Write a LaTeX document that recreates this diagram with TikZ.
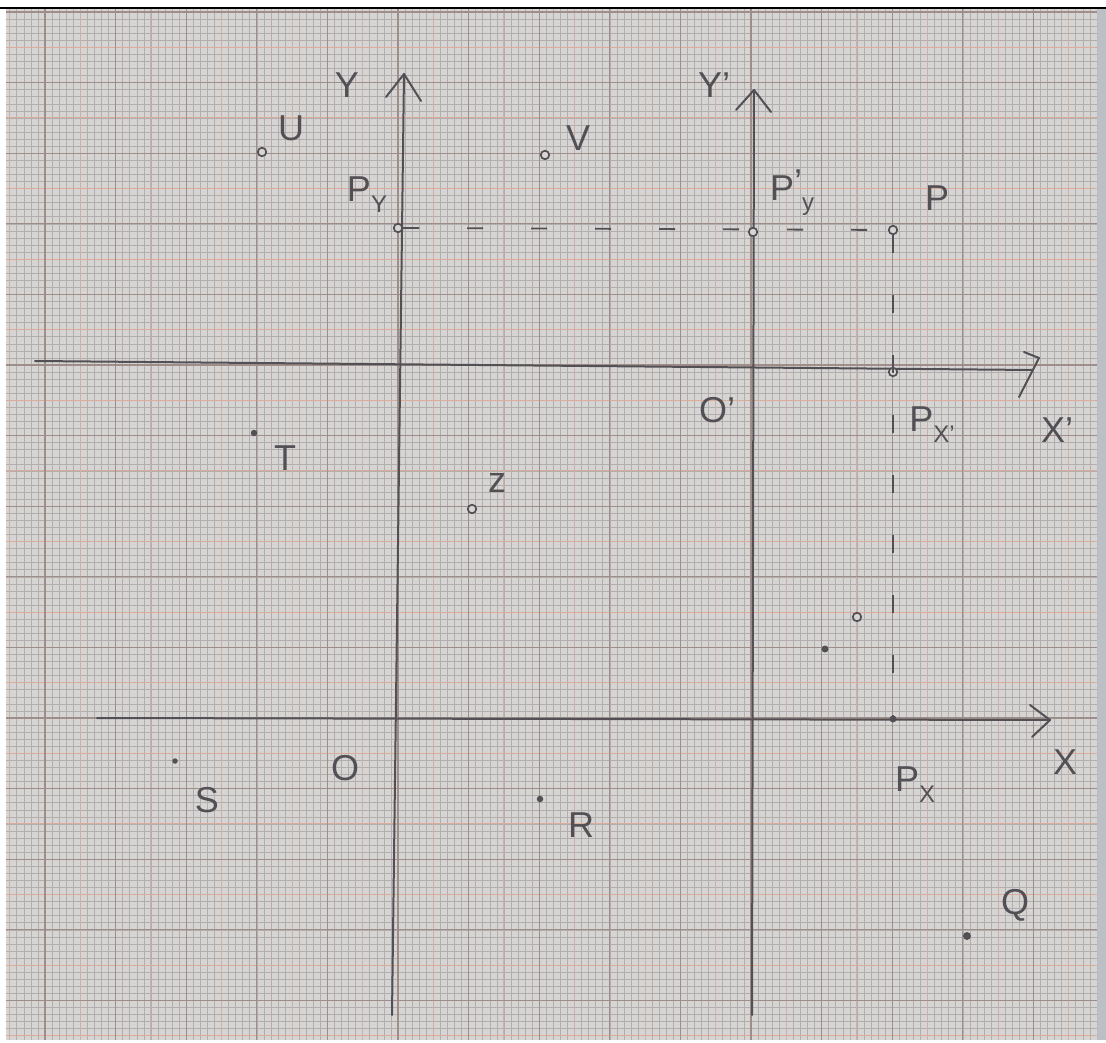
\documentclass[tikz,border=0pt]{standalone}
\usepackage{fontspec}
\setmainfont{Liberation Sans}
\definecolor{paper}{RGB}{215,213,212}
\definecolor{gfine}{RGB}{178,174,174}
\definecolor{ghalf}{RGB}{220,172,155}
\definecolor{ghalfv}{RGB}{200,178,170}
\definecolor{gcm}{RGB}{158,142,138}
\definecolor{pencil}{RGB}{82,80,84}
\definecolor{edgegray}{RGB}{188,192,198}
\newcommand\lsub[1]{\raisebox{-0.3em}{\fontsize{24}{26}\selectfont #1}}
\tikzset{
  fineline/.style={draw=gfine, line width=0.55pt},
  halfline/.style={draw=ghalf, line width=1pt},
  halfvline/.style={draw=ghalfv, line width=0.9pt},
  cmline/.style={draw=gcm, line width=1.1pt},
  axisline/.style={draw=pencil, line width=2pt, line cap=round, line join=round},
  dashline/.style={draw=pencil, line width=1.8pt, dash pattern=on 16pt off 48pt},
  vdashline/.style={draw=pencil, line width=1.8pt, dash pattern=on 18pt off 42pt},
  opendot/.style={circle, draw=pencil, line width=1.7pt, fill=paper, inner sep=0pt, minimum size=8.5pt},
  filldot/.style={circle, fill=pencil, inner sep=0pt, minimum size=6.5pt},
  lbl/.style={text=pencil, font=\fontsize{36}{40}\selectfont, inner sep=0pt},
}
\begin{document}
\begin{tikzpicture}[x=1pt,y=-1pt]
\useasboundingbox (0,0) rectangle (1106,1043);
\fill[white] (0,0) rectangle (1106,1043);
\fill[paper] (6,9) rectangle (1097,1040);
\fill[edgegray] (1097,9) rectangle (1106,1040);
\begin{scope}
\clip (6,9) rectangle (1097,1040);
\foreach \k in {-57,...,99} \draw[fineline] ({398+7.06*\k},9) -- ({398+7.06*\k},1040);
\foreach \k in {-102,...,46} \draw[fineline] (6,{718+7.06*\k}) -- (1097,{718+7.06*\k});
\foreach \k in {-12,...,20} \draw[halfvline] ({398+35.3*\k},9) -- ({398+35.3*\k},1040);
\foreach \k in {-21,...,10} \draw[halfline] (6,{718+35.3*\k}) -- (1097,{718+35.3*\k});
\foreach \k in {-6,...,10} \draw[cmline] ({398+70.6*\k},9) -- ({398+70.6*\k},1040);
\foreach \k in {-11,...,5} \draw[cmline] (6,{718+70.6*\k}) -- (1097,{718+70.6*\k});
\end{scope}
\draw[black, line width=2pt] (0,8) -- (1106,8);

% axes
\coordinate (ybot) at (392,1015);
\coordinate (ytip) at (404,74);
\coordinate (ypbot) at (752,1015);
\coordinate (yptip) at (754,90);
\coordinate (xstart) at (97,718);
\coordinate (xtip) at (1050,720);
\coordinate (xpstart) at (35,361);
\coordinate (xptip) at (1039,358);
\draw[axisline] (ybot) -- (ytip);
\draw[axisline] (386,97) -- (ytip) -- (421,101);
\draw[axisline] (ypbot) -- (yptip);
\draw[axisline] (736,110) -- (yptip) -- (771,112);
\draw[axisline] (xstart) -- (xtip);
\draw[axisline] (1030,705) -- (xtip) -- (1032,737);
\draw[axisline] (xpstart) -- (1033,370);
\draw[axisline] (1024,352) -- (xptip) -- (1019,397);

% points
\node[opendot] (U) at (262,152) {};
\node[opendot] (V) at (545,155) {};
\node[opendot] (Py) at (398,228) {};
\node[opendot] (Pyp) at (753,232) {};
\node[opendot] (P) at (893,230) {};
\node[opendot] (Pxp) at (893,372) {};
\node[filldot] (T) at (254,433) {};
\node[opendot] (Z) at (472,509) {};
\node[opendot] (W) at (857,617) {};
\node[filldot, minimum size=7pt] (D) at (825,649) {};
\node[filldot, minimum size=7pt] (Px) at (893,719) {};
\node[filldot, minimum size=5.5pt] (S) at (175,761) {};
\node[filldot] (R) at (540,799) {};
\node[filldot, minimum size=8pt] (Q) at (967,936) {};

% dashed projections
\draw[dashline] (Py) -- (P);
\draw[vdashline] (P) -- (Px);

% labels
\node[lbl] (lY) at (347,85) {Y};
\node[lbl] (lU) at (291,128) {U};
\node[lbl] (lV) at (578,138) {V};
\node[lbl] (lPy) at (367,195) {P\lsub{Y}};
\node[lbl] (lYp) at (714,85) {Y'};
\node[lbl] (lPyp) at (792,193) {P\raisebox{0.15em}{'}\lsub{y}};
\node[lbl] (lP) at (937,198) {P};
\node[lbl] (lOp) at (717,410) {O'};
\node[lbl] (lPxp) at (932,425) {P\lsub{X'}};
\node[lbl] (lXp) at (1057,430) {X'};
\node[lbl] (lT) at (285,458) {T};
\node[lbl] (lZ) at (497,483) {z};
\node[lbl] (lO) at (345,768) {O};
\node[lbl] (lS) at (207,800) {S};
\node[lbl] (lR) at (581,825) {R};
\node[lbl] (lPx) at (915,785) {P\lsub{X}};
\node[lbl] (lX) at (1065,762) {X};
\node[lbl] (lQ) at (1015,905) {Q};
\end{tikzpicture}
\end{document}
